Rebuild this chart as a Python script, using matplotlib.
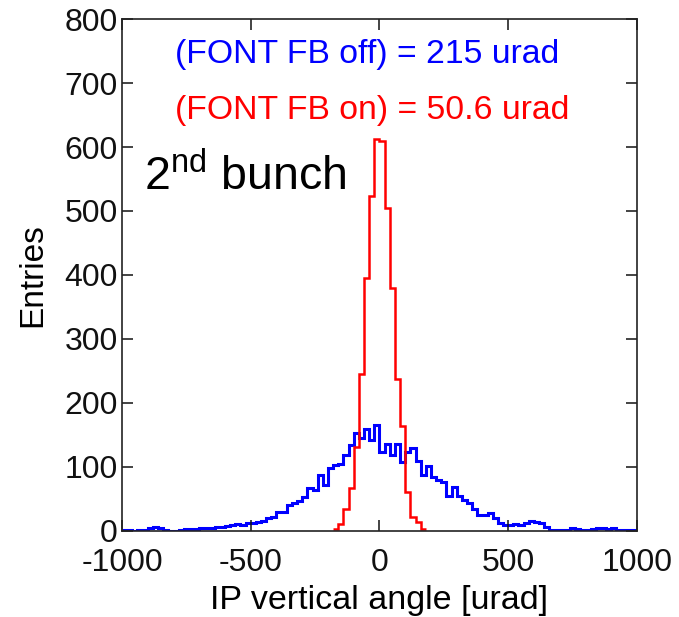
import numpy as np
import matplotlib
matplotlib.use("Agg")
import matplotlib.pyplot as plt

plt.rcParams['font.family'] = ['Liberation Sans', 'DejaVu Sans']
plt.rcParams['mathtext.fontset'] = 'custom'
plt.rcParams['mathtext.rm'] = 'Liberation Sans'
plt.rcParams['axes.unicode_minus'] = False

# IP vertical angle histograms, 20 urad bins
fb_off_range = (-1000, 1000)
fb_off_counts = [
    1, 1, 0, 1, 2, 4, 7, 5, 1, 0,
    0, 2, 3, 3, 3, 4, 4, 5, 6, 6,
    8, 10, 11, 10, 12,
    13, 14, 16, 20, 22, 30, 30, 41, 43, 47, 53, 67, 64, 88, 72,
    98, 103, 104, 119, 134, 153, 145, 160, 142, 166,
    124, 136, 119, 136, 108, 124, 130, 110, 88, 102, 85, 80, 77, 54, 69,
    54, 48, 43, 35, 25, 25, 28, 20, 12, 9,
    10, 11, 10, 12, 15, 14, 12, 6, 2, 1, 2, 1, 4, 3, 1,
    1, 3, 4, 4, 3, 4, 2, 1, 1, 1,
]
fb_on_range = (-180, 180)
fb_on_counts = [3, 11, 35, 67, 132, 246, 395, 523, 612,
                610, 504, 379, 238, 164, 61, 22, 14, 3]

off_label = "(FONT FB off) = 215 urad"
on_label = "(FONT FB on) = 50.6 urad"
bunch_label = r"2$^{\mathrm{nd}}$ bunch"
x_ticks = [-1000, -500, 0, 500, 1000]
y_ticks = list(range(0, 801, 100))

fig = plt.figure(figsize=(6.79, 6.17), dpi=100)
ax = fig.add_axes([0.1797, 0.1394, 0.7583, 0.8298])

off_edges = np.linspace(*fb_off_range, len(fb_off_counts) + 1)
on_edges = np.linspace(*fb_on_range, len(fb_on_counts) + 1)

ax.stairs(fb_off_counts, off_edges, color='#0000ff', lw=2.2, baseline=None)
ax.stairs(fb_on_counts, on_edges, color='#ff0000', lw=1.8, baseline=None)

ax.set_xlim(-1000, 1000)
ax.set_ylim(0, 800)
ax.set_xticks(x_ticks)
ax.set_yticks(y_ticks)
ax.tick_params(direction='in', length=8, width=1.1, top=True, right=True,
               labelsize=23, colors='#111111')
ax.tick_params(axis='y', pad=3)
ax.tick_params(axis='x', pad=12)
for s in ax.spines.values():
    s.set_linewidth(1.2)
    s.set_color('#222222')

ax.set_xlabel("IP vertical angle [urad]", fontsize=24.5, labelpad=5)
ax.set_ylabel("Entries", fontsize=24, labelpad=12)

ax.text(0.103, 0.93, off_label, transform=ax.transAxes, color='#0000ff',
        fontsize=24.3, va='center', ha='left')
ax.text(0.103, 0.822, on_label, transform=ax.transAxes, color='#ff0000',
        fontsize=24.3, va='center', ha='left')
ax.text(0.043, 0.692, bunch_label, transform=ax.transAxes, color='black',
        fontsize=33.5, va='center', ha='left')

fig.savefig("out.png", dpi=100)
